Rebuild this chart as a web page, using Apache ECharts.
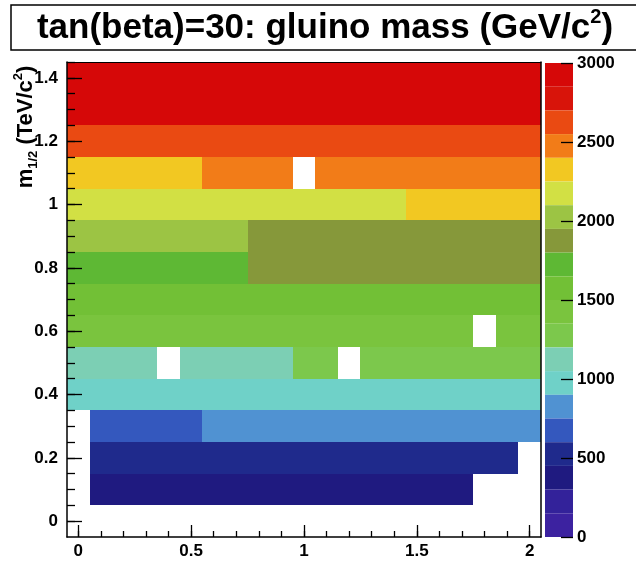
<!DOCTYPE html>
<html><head><meta charset="utf-8">
<script src="https://cdn.jsdelivr.net/npm/echarts@6/dist/echarts.min.js"></script>
<style>html,body{margin:0;padding:0;background:#fff}#c{width:636px;height:565px}</style>
</head><body><div id="c"></div>
<script>
// ---- data ----
const m0Values = [0,0.1,0.2,0.3,0.4,0.5,0.6,0.7,0.8,0.9,1,1.1,1.2,1.3,1.4,1.5,1.6,1.7,1.8,1.9,2];
const m12Values = [0,0.1,0.2,0.3,0.4,0.5,0.6,0.7,0.8,0.9,1,1.1,1.2,1.3,1.4];
// gluino mass (GeV/c^2) per m1/2 row, one value per m0 column (null = no point)
const row00 = [null,null,null,null,null,null,null,null,null,null,null,null,null,null,null,null,null,null,null,null,null];
const row01 = [null,318,319,320,322,324,326,328,331,334,337,340,343,346,350,353,357,361,null,null,null];
const row02 = [null,530,531,532,534,536,538,541,544,547,550,554,558,562,566,570,574,579,584,589,null];
const row03 = [null,737,739,741,744,747,755,758,762,766,770,774,778,782,786,790,794,798,802,806,810];
const row04 = [935,936,937,939,941,944,947,950,954,958,962,966,970,974,978,982,987,992,997,1002,1007];
const row05 = [1150,1152,1155,1158,null,1164,1168,1172,1178,1190,1205,1210,null,1218,1222,1226,1230,1235,1240,1245,1250];
const row06 = [1365,1366,1368,1370,1372,1375,1378,1382,1386,1390,1395,1400,1405,1410,1415,1420,1426,1432,null,1444,1450];
const row07 = [1580,1581,1583,1585,1588,1591,1594,1598,1602,1606,1611,1616,1621,1626,1631,1636,1640,1643,1645,1647,1649];
const row08 = [1775,1777,1779,1782,1785,1788,1792,1796,1802,1808,1814,1820,1826,1832,1838,1844,1850,1856,1862,1868,1874];
const row09 = [1995,1997,1999,2002,2005,2008,2012,2016,1900,1905,1910,1915,1920,1925,1930,1935,1940,1943,1945,1947,1949];
const row10 = [2195,2197,2199,2202,2205,2208,2212,2216,2220,2224,2228,2232,2236,2240,2244,2260,2266,2272,2278,2284,2290];
const row11 = [2380,2382,2385,2388,2392,2396,2402,2408,2414,2420,null,2432,2438,2444,2450,2456,2462,2468,2474,2480,2486];
const row12 = [2610,2612,2614,2617,2620,2623,2627,2631,2635,2639,2643,2647,2651,2655,2659,2663,2667,2671,2675,2679,2683];
const row13 = [2860,2862,2864,2867,2870,2873,2877,2881,2885,2889,2893,2897,2901,2905,2909,2913,2917,2921,2925,2929,2933];
const row14 = [2960,2961,2962,2964,2966,2968,2970,2972,2974,2976,2978,2980,2982,2984,2986,2988,2990,2992,2994,2996,2998];
const xTickValues = [0, 0.5, 1, 1.5, 2];
const yTickValues = [0, 0.2, 0.4, 0.6, 0.8, 1, 1.2, 1.4];
const levelEdges = [0,150,300,450,600,750,900,1050,1200,1350,1500,1650,1800,1950,2100,2250,2400,2550,2700,2850,3000];

// ---- styling ----
const levelColors = ['#3c22a0','#33229a','#1f1a80','#1f2a8c','#3458be','#5092d2','#6fd1c8','#7ccfb4','#7cc84c','#7ac43e',
  '#72c036','#5eb834','#86983a','#9cc444','#d2e044','#f2c822','#f27c18','#ea4a12','#d8140a','#d60808'];
const FONT = '"Liberation Sans", Arial, Helvetica, sans-serif';
const BIN_HALF = 0.05;
const rows = [row00,row01,row02,row03,row04,row05,row06,row07,row08,row09,row10,row11,row12,row13,row14];
const cells = [];
rows.forEach((r, yi) => r.forEach((v, xi) => { if (v != null) cells.push([m0Values[xi], m12Values[yi], v]); }));
const xMinor = []; for (let i = 0; i <= 20; i++) xMinor.push(i / 10);
const yMinor = []; for (let i = 0; i <= 29; i++) yMinor.push(i / 20);
const pieces = levelColors.map((c, i) => ({ gte: levelEdges[i], lt: levelEdges[i + 1], color: c }));
pieces[pieces.length - 1].lte = 3000; delete pieces[pieces.length - 1].lt;

const lineS = { color: '#000', width: 1.5 };
const tickS = { color: '#000', width: 1.3 };
const lab = { color: '#000', fontSize: 17, fontWeight: 'bold', fontFamily: FONT };

const chart = echarts.init(document.getElementById('c'));
chart.setOption({
  animation: false,
  backgroundColor: '#fff',
  grid: [
    { left: 67, top: 62, width: 474, height: 475, show: true, backgroundColor: '#fff', borderWidth: 0 },
    { left: 545, top: 63, width: 28, height: 474, show: false }
  ],
  xAxis: [
    { type: 'value', gridIndex: 0, min: -0.05, max: 2.05, position: 'bottom', z: 5,
      axisLine: { show: true, onZero: false, lineStyle: lineS },
      axisTick: { show: true, inside: true, length: 12, customValues: xTickValues, lineStyle: tickS },
      axisLabel: Object.assign({ show: true, customValues: xTickValues, margin: 6 }, lab),
      splitLine: { show: false } },
    { type: 'value', gridIndex: 0, min: -0.05, max: 2.05, position: 'bottom', z: 5,
      axisLine: { show: false, onZero: false },
      axisTick: { show: true, inside: true, length: 6, customValues: xMinor, lineStyle: tickS },
      axisLabel: { show: false }, splitLine: { show: false } },
    { type: 'value', gridIndex: 0, min: -0.05, max: 2.05, position: 'top', z: 5,
      axisLine: { show: true, onZero: false, lineStyle: { color: '#000', width: 1 } },
      axisTick: { show: false }, axisLabel: { show: false }, splitLine: { show: false } },
    { type: 'value', gridIndex: 1, min: 0, max: 1, show: false }
  ],
  yAxis: [
    { type: 'value', gridIndex: 0, min: -0.05, max: 1.45, position: 'left', z: 5,
      axisLine: { show: true, onZero: false, lineStyle: lineS },
      axisTick: { show: true, inside: true, length: 15, customValues: yTickValues, lineStyle: tickS },
      axisLabel: Object.assign({ show: true, customValues: yTickValues, margin: 9 }, lab),
      splitLine: { show: false } },
    { type: 'value', gridIndex: 0, min: -0.05, max: 1.45, position: 'left', z: 5,
      axisLine: { show: false, onZero: false },
      axisTick: { show: true, inside: true, length: 8, customValues: yMinor, lineStyle: tickS },
      axisLabel: { show: false }, splitLine: { show: false } },
    { type: 'value', gridIndex: 0, min: -0.05, max: 1.45, position: 'right', z: 5,
      axisLine: { show: true, onZero: false, lineStyle: lineS },
      axisTick: { show: false }, axisLabel: { show: false }, splitLine: { show: false } },
    { type: 'value', gridIndex: 1, min: 0, max: 3000, interval: 500, position: 'right', z: 5,
      axisLine: { show: false, onZero: false },
      axisTick: { show: true, inside: true, length: 12, lineStyle: tickS },
      axisLabel: Object.assign({ show: true, margin: 4, formatter: v => String(v) }, lab),
      splitLine: { show: false } }
  ],
  visualMap: [{
    type: 'piecewise', seriesIndex: 0, dimension: 2, orient: 'vertical', left: 545, top: 63, padding: 0,
    itemWidth: 28, itemHeight: 23.7, itemGap: 0, itemSymbol: 'rect', showLabel: false,
    selectedMode: false, hoverLink: false, pieces: pieces
  }],
  series: [{
    type: 'custom', coordinateSystem: 'cartesian2d', xAxisIndex: 0, yAxisIndex: 0, data: cells,
    encode: { x: 0, y: 1 },
    renderItem: function (params, api) {
      const x = api.value(0), y = api.value(1);
      const a = api.coord([x - BIN_HALF, y + BIN_HALF]);
      const b = api.coord([x + BIN_HALF, y - BIN_HALF]);
      const x0 = Math.round(a[0]), x1 = Math.round(b[0]), y0 = Math.round(a[1]), y1 = Math.round(b[1]);
      return { type: 'rect', shape: { x: x0, y: y0, width: x1 - x0, height: y1 - y0 },
               style: { fill: api.visual('color'), stroke: null } };
    }
  }],
  graphic: [
    { type: 'rect', z: 10, shape: { x: 11, y: 5, width: 640, height: 45 },
      style: { fill: 'none', stroke: '#000', lineWidth: 1.5 } },
    { type: 'text', z: 10, x: 325, y: 28,
      style: { text: '{t|tan(beta)=30: gluino mass (GeV/c}{s|2}{t|)}', align: 'center', verticalAlign: 'middle',
        rich: { t: { fontSize: 35, fontWeight: 'bold', fontFamily: FONT, lineHeight: 42, fill: '#000' },
                s: { fontSize: 20, fontWeight: 'bold', fontFamily: FONT, lineHeight: 32, verticalAlign: 'top', fill: '#000' } } } },
    { type: 'text', z: 10, x: 26, y: 127, rotation: Math.PI / 2,
      style: { text: '{t|m}{b|1/2}{t| (TeV/c}{s|2}{t|)}', align: 'center', verticalAlign: 'middle',
        rich: { t: { fontSize: 22, fontWeight: 'bold', fontFamily: FONT, lineHeight: 28, fill: '#000' },
                b: { fontSize: 13, fontWeight: 'bold', fontFamily: FONT, lineHeight: 15, verticalAlign: 'bottom', fill: '#000' },
                s: { fontSize: 13, fontWeight: 'bold', fontFamily: FONT, lineHeight: 17, verticalAlign: 'top', fill: '#000' } } } }
  ]
});
</script></body></html>
